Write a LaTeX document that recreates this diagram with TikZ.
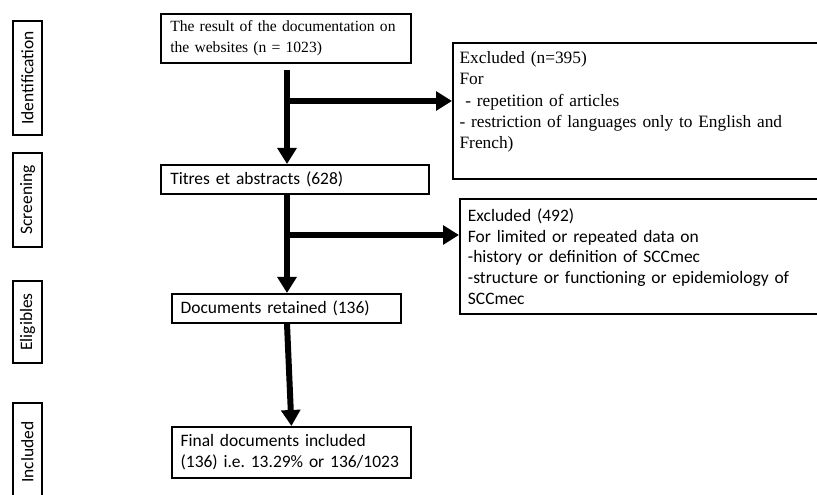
\documentclass[tikz,border=0pt]{standalone}
\usepackage{fontspec}
\setmainfont{Carlito}
\newfontfamily\timesfont{Liberation Serif}
\usetikzlibrary{arrows.meta}
\frenchspacing
\begin{document}
\begin{tikzpicture}[x=0.75pt,y=-0.75pt,>={Triangle[length=12pt,width=14pt]},
  box/.style={draw,line width=1.4pt,anchor=north west,align=left,inner xsep=6pt,inner ysep=0pt,font=\fontsize{13.1}{15.5}\selectfont},
  serifbox/.style={box,font=\timesfont\fontsize{13}{16}\selectfont},
  side/.style={draw,line width=1.4pt,rotate=90,minimum height=21.75pt,inner sep=0pt,font=\fontsize{13.1}{15.5}\selectfont},
  flow/.style={->,line width=4.5pt}]
\def\xmax{817}
\def\ymax{495}
\useasboundingbox (0,0) rectangle (\xmax,\ymax);
\clip (0,0) rectangle (\xmax,\ymax);
\foreach \lab/\yc/\len in {Identification/78/85.5pt,Screening/200/70.5pt,Eligibles/322/61.5pt,Included/452/73.5pt}
  {\node[side,minimum width=\len] (\lab) at (27.5,\yc) {\lab};}
\node[serifbox,font=\timesfont\fontsize{11.7}{16}\selectfont,inner xsep=7pt,text width=173.5pt,minimum height=36.75pt] (docs) at (160,13) {The result of the documentation on\\the websites (n = 1023)};
\node[box,inner xsep=7pt,text width=187pt,minimum height=21.75pt] (titles) at (160,164) {Titres et abstracts (628)};
\node[box,inner xsep=6.5pt,text width=158.75pt,minimum height=21.75pt] (retained) at (171,293) {Documents retained (136)};
\node[box,inner xsep=6.5pt,text width=166.25pt,minimum height=38.25pt] (final) at (171,426) {Final documents included\\(136) i.e. 13.29\% or 136/1023};
\node[serifbox,inner xsep=5pt,text width=273.5pt,minimum height=102pt] (excl1) at (452,42) {Excluded (n=395)\\For\\\ - repetition of articles\\- restriction of languages only to English and\\French)\\\mbox{}};
\node[box,text width=266.25pt,minimum height=86.25pt] (excl2) at (459,198) {Excluded (492)\\For limited or repeated data on\\-history or definition of SCCmec\\-structure or functioning or epidemiology of\\SCCmec};
\coordinate (trunk) at (287,0);
\coordinate (b1) at (287,101);
\coordinate (b2) at (287,235);
\draw[flow] ([yshift=-4.5pt]docs.south -| trunk) -- (titles.north -| trunk);
\draw[flow] (b1) -- (b1 -| excl1.west);
\draw[flow] (titles.south -| trunk) -- (retained.north -| trunk);
\draw[flow] (b2) -- (b2 -| excl2.west);
\draw[flow] (retained.south -| trunk) -- (final.north);
\end{tikzpicture}
\end{document}
